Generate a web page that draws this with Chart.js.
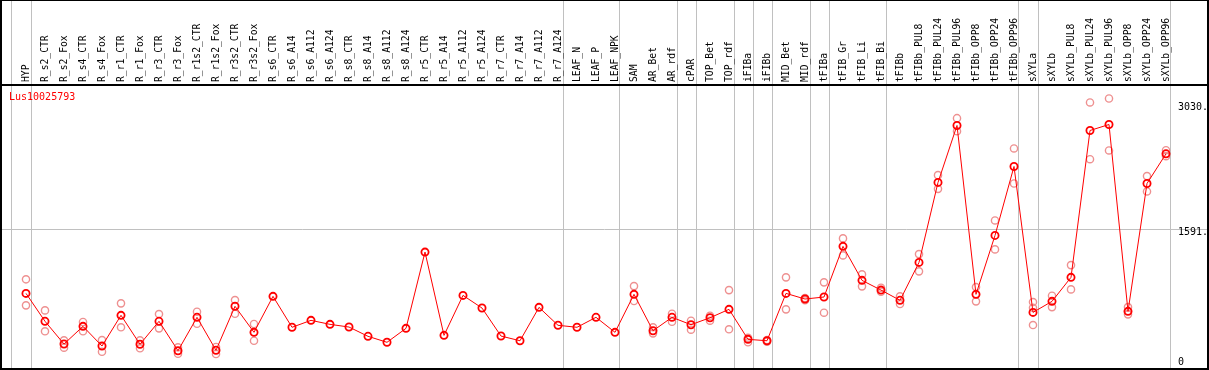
<!DOCTYPE html>
<html>
<head>
<meta charset="utf-8">
<script src="https://cdn.jsdelivr.net/npm/chart.js@4/dist/chart.umd.min.js"></script>
<style>
  html, body { margin: 0; padding: 0; background: #fff; }
  #wrap { width: 1209px; height: 370px; position: relative; }
</style>
</head>
<body>
<div id="wrap"><canvas id="c" width="1209" height="370"></canvas></div>
<script>
const geneName = 'Lus10025793';

const categories = [
  'HYP','R_s2_CTR','R_s2_Fox','R_s4_CTR','R_s4_Fox','R_r1_CTR','R_r1_Fox','R_r3_CTR','R_r3_Fox',
  'R_r1s2_CTR','R_r1s2_Fox','R_r3s2_CTR','R_r3s2_Fox','R_s6_CTR','R_s6_A14','R_s6_A112','R_s6_A124',
  'R_s8_CTR','R_s8_A14','R_s8_A112','R_s8_A124','R_r5_CTR','R_r5_A14','R_r5_A112','R_r5_A124',
  'R_r7_CTR','R_r7_A14','R_r7_A112','R_r7_A124','LEAF_N','LEAF_P','LEAF_NPK','SAM','AR_Bet','AR_rdf',
  'cPAR','TOP_Bet','TOP_rdf','iFIBa','iFIBb','MID_Bet','MID_rdf','tFIBa','tFIB_Gr','tFIB_Li','tFIB_Bi',
  'tFIBb','tFIBb_PUL8','tFIBb_PUL24','tFIBb_PUL96','tFIBb_OPP8','tFIBb_OPP24','tFIBb_OPP96',
  'sXYLa','sXYLb','sXYLb_PUL8','sXYLb_PUL24','sXYLb_PUL96','sXYLb_OPP8','sXYLb_OPP24','sXYLb_OPP96'
];

const meanValues = [
  843, 521, 259, 463, 236, 590, 256, 521, 182,
  567, 187, 694, 394, 809, 452, 532, 486,
  455, 348, 279, 440, 1319, 359, 820, 674,
  351, 297, 682, 475, 452, 567, 394, 832, 412, 567,
  482, 562, 659, 313, 297, 843, 778, 801, 1385, 993, 881,
  763, 1200, 2122, 2779, 832, 1511, 2306,
  624, 751, 1028, 2721, 2790, 636, 2110, 2452
];

const replicateA = [
  1005, 647, 302, 513, 305, 728, 302, 605, 221,
  631, 225, 766, 490, null, null, null, null,
  null, null, null, null, null, null, null, null,
  null, null, null, null, null, null, null, 927, 452, 608,
  528, 585, 881, 332, 305, 1028, 789, 970, 1477, 1062, 908,
  809, 1296, 2206, 2863, 916, 1684, 2514,
  743, 816, 1169, 3044, 3090, 685, 2195, 2494
];

const replicateB = [
  705, 406, 217, 406, 170, 452, 210, 440, 147,
  493, 144, 608, 297, null, null, null, null,
  null, null, null, null, null, null, null, null,
  null, null, null, null, null, null, null, 755, 382, 516,
  424, 528, 429, 279, 286, 659, 763, 620, 1281, 924, 862,
  720, 1097, 2048, 2713, 751, 1350, 2110,
  478, 685, 889, 2390, 2491, 601, 2018, 2425
];

const replicateC = [
  null, null, null, null, null, null, null, null, null,
  null, null, null, null, null, null, null, null,
  null, null, null, null, null, null, null, null,
  null, null, null, null, null, null, null, null, null, null,
  null, null, null, null, null, null, null, null, null, null, null,
  null, null, null, null, null, null, null,
  677, null, null, null, null, null, null, null
];

// group separators, in category units
const groupBoundaries = [-0.79, 0.26, 28.26, 31.22, 34.26, 35.26, 37.26, 38.26, 39.26, 41.26, 42.26, 45.26, 52.22, 53.26, 60.22];
const gridValues = [1591];
const yTickValues = [3030, 1591, 0];
const yTickLabels = ['3030.', '1591.', '0'];

const toPts = arr => arr.map((v, i) => (v === null ? null : { x: i, y: v })).filter(p => p !== null);
const repPts = [].concat(toPts(replicateA), toPts(replicateB), toPts(replicateC));

const MONO = '"DejaVu Sans Mono", "Liberation Mono", monospace';

const decor = {
  id: 'decor',
  beforeDatasetsDraw(chart) {
    const ctx = chart.ctx;
    const xs = chart.scales.x, ys = chart.scales.y;
    const a = chart.chartArea;
    ctx.save();
    ctx.fillStyle = '#fff';
    ctx.fillRect(0, 0, chart.width, chart.height);
    ctx.strokeStyle = '#c0c0c0';
    ctx.lineWidth = 1;
    groupBoundaries.forEach(b => {
      const x = Math.round(xs.getPixelForValue(b)) + 0.5;
      ctx.beginPath(); ctx.moveTo(x, 0); ctx.lineTo(x, chart.height); ctx.stroke();
    });
    gridValues.forEach(v => {
      const y = Math.round(ys.getPixelForValue(v)) + 0.5;
      ctx.beginPath(); ctx.moveTo(a.left, y); ctx.lineTo(a.right, y); ctx.stroke();
    });
    ctx.restore();
  },
  afterDraw(chart) {
    const ctx = chart.ctx;
    const xs = chart.scales.x, ys = chart.scales.y;
    const a = chart.chartArea;
    const W = chart.width, H = chart.height;
    ctx.save();
    // frame
    ctx.fillStyle = '#000';
    ctx.fillRect(0, 0, 2, H);
    ctx.fillRect(W - 2, 0, 2, H);
    ctx.fillRect(0, 0, W, 1);
    ctx.fillRect(0, H - 2, W, 2);
    ctx.fillRect(0, a.top - 1, W, 2);
    // category labels (vertical, reading bottom to top)
    ctx.fillStyle = '#000';
    ctx.font = '9.7px ' + MONO;
    ctx.textAlign = 'left';
    ctx.textBaseline = 'middle';
    categories.forEach((c, i) => {
      const x = xs.getPixelForValue(i);
      ctx.save();
      ctx.translate(x, a.top - 3);
      ctx.rotate(-Math.PI / 2);
      ctx.fillText(c, 0, 0.5);
      ctx.restore();
    });
    // gene name
    ctx.fillStyle = '#ff0000';
    ctx.font = '10px ' + MONO;
    ctx.textAlign = 'left';
    ctx.textBaseline = 'top';
    ctx.fillText(geneName, 9, a.top + 7);
    // y labels inside right edge
    ctx.fillStyle = '#000';
    ctx.font = '10px ' + MONO;
    yTickValues.forEach((v, k) => {
      const y = ys.getPixelForValue(v);
      if (v === 0) { ctx.textBaseline = 'bottom'; ctx.fillText(yTickLabels[k], 1178, y + 0.5); }
      else { ctx.textBaseline = 'top'; ctx.fillText(yTickLabels[k], 1178, y - 1); }
    });
    ctx.restore();
  }
};

new Chart(document.getElementById('c'), {
  type: 'line',
  data: {
    datasets: [
      {
        label: 'mean',
        data: toPts(meanValues),
        borderColor: '#ff0000',
        borderWidth: 1,
        pointRadius: 3.6,
        pointBorderWidth: 1.8,
        pointBorderColor: '#ff0000',
        pointBackgroundColor: 'rgba(0,0,0,0)',
        tension: 0,
        fill: false,
        order: 1
      },
      {
        label: 'replicates',
        data: repPts,
        showLine: false,
        borderColor: '#ee9090',
        pointRadius: 3.6,
        pointBorderWidth: 1.4,
        pointBorderColor: '#ee9090',
        pointBackgroundColor: 'rgba(0,0,0,0)',
        order: 2
      }
    ]
  },
  options: {
    responsive: false,
    animation: false,
    events: [],
    layout: { autoPadding: false, padding: { left: 1, right: 1, top: 85, bottom: 1 } },
    scales: {
      x: { type: 'linear', min: -1.3158, max: 62.2105, display: false },
      y: { type: 'linear', min: -28.8, max: 3245.4, display: false }
    },
    plugins: { legend: { display: false }, tooltip: { enabled: false }, title: { display: false } },
    elements: { point: { pointStyle: 'circle' } }
  },
  plugins: [decor]
});
</script>
</body>
</html>
